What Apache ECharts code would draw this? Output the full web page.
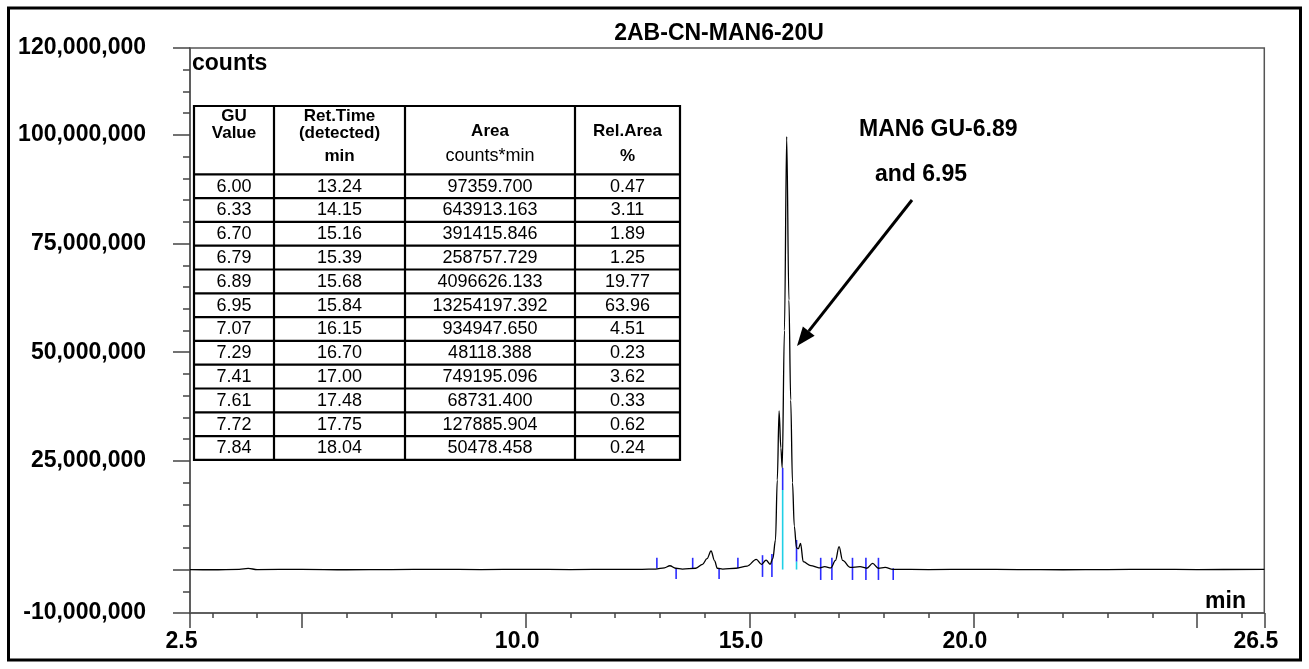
<!DOCTYPE html>
<html>
<head>
<meta charset="utf-8">
<script src="https://cdn.jsdelivr.net/npm/echarts@6/dist/echarts.min.js"></script>
<style>
html,body{margin:0;padding:0;background:#fff;}
#chart{width:1309px;height:669px;}
</style>
</head>
<body>
<div id="chart"></div>
<script>
// ---------- DATA ----------
const chartTitle = '2AB-CN-MAN6-20U';
const unit = 1e6; // values below in millions of counts

// chromatogram trace: retention time (min) and signal (millions of counts)
const traceTime = [2.5, 3.0, 3.6, 3.8, 4.0, 5.0, 6.0, 7.0, 8.0, 9.0, 10.0, 11.0, 12.0, 12.6, 12.9, 13.1, 13.22, 13.35, 13.5,
  13.8, 13.95, 14.05, 14.14, 14.22, 14.28, 14.4, 14.7, 14.95, 15.15, 15.27, 15.37, 15.46, 15.52, 15.58, 15.62, 15.66,
  15.70, 15.73, 15.78, 15.83, 15.88, 15.92, 15.96, 16.0, 16.05, 16.09, 16.14, 16.2, 16.37, 16.55, 16.68, 16.82,
  16.92, 17.0, 17.08, 17.25, 17.47, 17.62, 17.75, 17.88, 18.03, 18.2, 19.0, 20.0, 21.0, 22.0, 23.0, 24.0, 25.0, 26.5];
const traceSignal = [0.0, -0.05, 0.05, 0.25, 0.0, 0.05, -0.05, 0.0, 0.05, 0.0, 0.05, 0.0, 0.05, 0.05, 0.1, 0.4, 0.87, 0.3, 0.1,
  0.3, 1.2, 2.5, 4.26, 2.0, 0.3, 0.1, 0.3, 0.8, 2.35, 1.2, 2.18, 1.2, 2.5, 6.8, 20.6, 36.5,
  28.0, 23.4, 55.0, 99.6, 62.0, 39.0, 20.0, 10.0, 5.0, 4.8, 6.0, 1.8, 0.9, 0.4, 0.65, 0.4,
  2.1, 5.25, 2.1, 0.5, 0.65, 0.3, 1.4, 0.3, 0.5, 0.05, 0.0, 0.05, 0.0, -0.05, 0.0, 0.05, 0.0, 0.05];

// peak delimiter markers: time, top, bottom (millions of counts)
const blueMarkTime   = [12.93, 13.36, 13.73, 14.32, 14.74, 15.29, 15.50, 15.74, 16.05, 16.59, 16.84, 17.30, 17.60, 17.88, 18.21];
const blueMarkTop    = [2.7, 0.3, 2.7, 0.3, 2.7, 3.3, 3.6, 23.4, 6.8, 2.7, 2.7, 2.7, 2.7, 2.7, 0.3];
const blueMarkBottom = [0.3, -2.2, 0.3, -2.2, 0.3, -1.7, -1.7, 18.3, 1.8, -2.4, -2.4, -2.4, -2.4, -2.4, -2.4];
const cyanMarkTime   = [15.74, 16.05];
const cyanMarkTop    = [18.3, 1.8];
const cyanMarkBottom = [0.0, 0.0];

// axes
const xMinorTicks = [3, 4, 6, 7, 8, 9, 11, 12, 13, 14, 16, 17, 18, 19, 21, 22, 23, 24, 26];
const xMajorTicks = [2.5, 5, 10, 15, 20, 25, 26.5];
const xTickLabels = [2.5, 10, 15, 20, 26.5];
const yMinorTicks = [-10, -5, 0, 5, 10, 15, 20, 25, 30, 35, 40, 45, 50, 55, 60, 65, 70, 75, 80, 85, 90, 95, 100, 105, 110, 115, 120];
const yMajorTicks = [-10, 0, 25, 50, 75, 100, 120];
const yTickLabels = [-10, 25, 50, 75, 100, 120];

// peak table
const tableHeader1 = ['GU', 'Ret.Time', '', ''];
const tableHeader2 = ['Value', '(detected)', 'Area', 'Rel.Area'];
const tableHeader3 = ['', 'min', 'counts*min', '%'];
const guValues  = ['6.00', '6.33', '6.70', '6.79', '6.89', '6.95', '7.07', '7.29', '7.41', '7.61', '7.72', '7.84'];
const retTimes  = ['13.24', '14.15', '15.16', '15.39', '15.68', '15.84', '16.15', '16.70', '17.00', '17.48', '17.75', '18.04'];
const areas     = ['97359.700', '643913.163', '391415.846', '258757.729', '4096626.133', '13254197.392', '934947.650', '48118.388', '749195.096', '68731.400', '127885.904', '50478.458'];
const relAreas  = ['0.47', '3.11', '1.89', '1.25', '19.77', '63.96', '4.51', '0.23', '3.62', '0.33', '0.62', '0.24'];

const annotation1 = 'MAN6 GU-6.89';
const annotation2 = 'and 6.95';

// ---------- CHART ----------
const FONT = '"Liberation Sans", Arial, Helvetica, sans-serif';
const chart = echarts.init(document.getElementById('chart'), null, {renderer: 'canvas'});

const traceData = traceTime.map((t, i) => [t, traceSignal[i] * unit]);
const blueData = blueMarkTime.map((t, i) => [t, blueMarkTop[i] * unit, blueMarkBottom[i] * unit]);
const cyanData = cyanMarkTime.map((t, i) => [t, cyanMarkTop[i] * unit, cyanMarkBottom[i] * unit]);

function withCommas(v) {
  const s = String(Math.round(Math.abs(v)));
  return (v < 0 ? '-' : '') + s.replace(/\B(?=(\d{3})+(?!\d))/g, ',');
}

function markerRender(color) {
  return function (params, api) {
    const p1 = api.coord([api.value(0), api.value(1)]);
    const p2 = api.coord([api.value(0), api.value(2)]);
    return {
      type: 'line',
      shape: {x1: p1[0], y1: p1[1], x2: p2[0], y2: p2[1]},
      style: {stroke: color, lineWidth: 1.6}
    };
  };
}

// table graphics
const tL = 194, tR = 680, tTop = 106, tHeadBottom = 174.3, rowH = 23.8;
const colX = [194, 274, 405, 575, 680];
const tBottom = tHeadBottom + rowH * guValues.length;
const tableEls = [];
tableEls.push({type: 'rect', shape: {x: tL, y: tTop, width: tR - tL, height: tBottom - tTop},
  style: {fill: '#fff', stroke: '#000', lineWidth: 2.2}, z: 10});
for (let c = 1; c < colX.length - 1; c++) {
  tableEls.push({type: 'line', shape: {x1: colX[c], y1: tTop, x2: colX[c], y2: tBottom}, style: {stroke: '#000', lineWidth: 2.2}, z: 11});
}
for (let r = 0; r < guValues.length; r++) {
  const y = tHeadBottom + rowH * r;
  tableEls.push({type: 'line', shape: {x1: tL, y1: y, x2: tR, y2: y}, style: {stroke: '#000', lineWidth: 2.2}, z: 11});
}
const colCenters = colX.slice(0, 4).map((x, i) => (x + colX[i + 1]) / 2);
function tText(x, y, s, bold) {
  return {type: 'text', x: x, y: y, z: 12,
    style: {text: s, fill: '#000', font: (bold ? 'bold 17px ' : '18px ') + FONT, textAlign: 'center', textVerticalAlign: 'middle'}};
}
tableHeader1.forEach((s, i) => { if (s) tableEls.push(tText(colCenters[i], 116, s, true)); });
tableHeader2.forEach((s, i) => { if (s) tableEls.push(tText(colCenters[i], i >= 2 ? 131.5 : 133.5, s, true)); });
tableHeader3.forEach((s, i) => { if (s) tableEls.push(tText(colCenters[i], 156, s, i !== 2)); });
const cols = [guValues, retTimes, areas, relAreas];
for (let r = 0; r < guValues.length; r++) {
  const y = tHeadBottom + rowH * (r + 0.5) + 0.5;
  cols.forEach((col, c) => tableEls.push(tText(colCenters[c], y, col[r], false)));
}

// arrow
const arrowTail = [912, 200], arrowTip = [797, 346];
const dx = arrowTip[0] - arrowTail[0], dy = arrowTip[1] - arrowTail[1];
const len = Math.sqrt(dx * dx + dy * dy), ux = dx / len, uy = dy / len;
const headL = 19, headW = 7.5;
const base = [arrowTip[0] - ux * headL, arrowTip[1] - uy * headL];

const option = {
  backgroundColor: '#fff',
  animation: false,
  grid: {left: 190, right: 44.7, top: 48, bottom: 56, show: true, borderColor: '#555', borderWidth: 1.5, backgroundColor: 'transparent'},
  xAxis: [
    {type: 'value', min: 2.5, max: 26.5, position: 'bottom',
      axisLine: {show: true, onZero: false, lineStyle: {color: '#555', width: 1.5}},
      axisTick: {show: true, customValues: xMinorTicks, length: 5, lineStyle: {color: '#444', width: 1.5}},
      axisLabel: {show: true, customValues: xTickLabels, formatter: v => Number(v).toFixed(1), margin: 17,
        fontSize: 23, fontWeight: 'bold', color: '#000', fontFamily: FONT, padding: [0, 17, 0, 0]},
      splitLine: {show: false}},
    {type: 'value', min: 2.5, max: 26.5, position: 'bottom',
      axisLine: {show: false, onZero: false},
      axisTick: {show: true, customValues: xMajorTicks, length: 15, lineStyle: {color: '#444', width: 1.5}},
      axisLabel: {show: false}, splitLine: {show: false}}
  ],
  yAxis: [
    {type: 'value', min: -10 * unit, max: 120 * unit, interval: 5 * unit, position: 'left',
      axisLine: {show: true, onZero: false, lineStyle: {color: '#555', width: 1.5}},
      axisTick: {show: true, customValues: yMinorTicks.map(v => v * unit), length: 7, lineStyle: {color: '#444', width: 1.5}},
      axisLabel: {show: true, customValues: yTickLabels.map(v => v * unit), formatter: withCommas, margin: 44,
        fontSize: 23, fontWeight: 'bold', color: '#000', fontFamily: FONT, align: 'right', padding: [4, 0, 0, 0]},
      splitLine: {show: false}},
    {type: 'value', min: -10 * unit, max: 120 * unit, interval: 5 * unit, position: 'left',
      axisLine: {show: false, onZero: false},
      axisTick: {show: true, customValues: yMajorTicks.map(v => v * unit), length: 17, lineStyle: {color: '#444', width: 1.5}},
      axisLabel: {show: false}, splitLine: {show: false}}
  ],
  series: [
    {type: 'custom', name: 'delimiters', xAxisIndex: 0, yAxisIndex: 0, renderItem: markerRender('#2b2bff'), data: blueData, z: 3, silent: true},
    {type: 'custom', name: 'mainDelimiters', xAxisIndex: 0, yAxisIndex: 0, renderItem: markerRender('#1fd0e6'), data: cyanData, z: 3, silent: true},
    {type: 'line', name: 'trace', xAxisIndex: 0, yAxisIndex: 0, data: traceData, showSymbol: false, symbol: 'none',
      smooth: 0.35, smoothMonotone: 'x',
      lineStyle: {color: '#000', width: 1.3}, z: 5, silent: true}
  ],
  graphic: [
    {type: 'rect', shape: {x: 8.5, y: 8, width: 1292, height: 652}, style: {fill: 'none', stroke: '#000', lineWidth: 3}, z: 20},
    {type: 'text', x: 719, y: 34, style: {text: chartTitle, font: 'bold 23px ' + FONT, fill: '#000', textAlign: 'center', textVerticalAlign: 'middle'}, z: 20},
    {type: 'text', x: 192, y: 64, style: {text: 'counts', font: 'bold 23px ' + FONT, fill: '#000', textAlign: 'left', textVerticalAlign: 'middle'}, z: 20},
    {type: 'text', x: 1246, y: 602, style: {text: 'min', font: 'bold 23px ' + FONT, fill: '#000', textAlign: 'right', textVerticalAlign: 'middle'}, z: 20},
    {type: 'text', x: 859, y: 130, style: {text: annotation1, font: 'bold 23px ' + FONT, fill: '#000', textAlign: 'left', textVerticalAlign: 'middle'}, z: 20},
    {type: 'text', x: 875, y: 175, style: {text: annotation2, font: 'bold 23px ' + FONT, fill: '#000', textAlign: 'left', textVerticalAlign: 'middle'}, z: 20},
    {type: 'line', shape: {x1: arrowTail[0], y1: arrowTail[1], x2: base[0], y2: base[1]}, style: {stroke: '#000', lineWidth: 3}, z: 20},
    {type: 'polygon', shape: {points: [arrowTip, [base[0] + uy * headW, base[1] - ux * headW], [base[0] - uy * headW, base[1] + ux * headW]]},
      style: {fill: '#000'}, z: 20},
    {type: 'group', children: tableEls, z: 10}
  ]
};
chart.setOption(option);
</script>
</body>
</html>
